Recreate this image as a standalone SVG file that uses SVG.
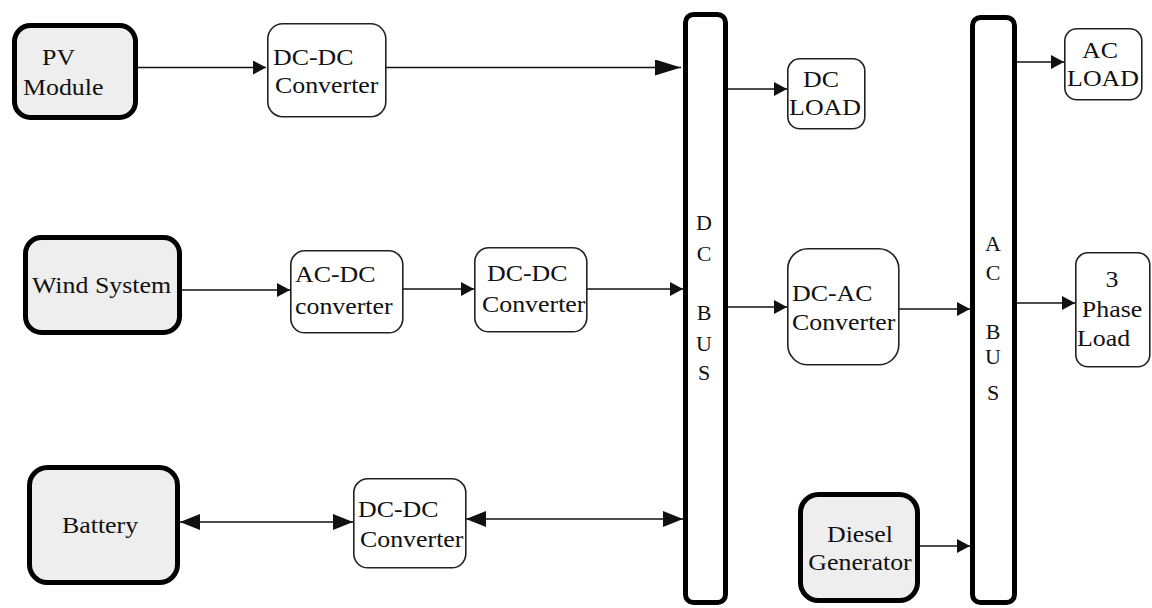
<svg xmlns="http://www.w3.org/2000/svg" width="1152" height="608" viewBox="0 0 1152 608" font-family="'Liberation Serif', 'DejaVu Serif', serif">
<style>
  .src rect { fill: #eeeeee; stroke: #000; stroke-width: 5; }
  .box rect { fill: #fff; stroke: #222; stroke-width: 1.6; }
  .bus rect { fill: #fff; stroke: #000; stroke-width: 5; }
  text { font-family: 'Liberation Serif', 'DejaVu Serif', serif; font-size: 22.5px; fill: #111; }
  .m { text-anchor: middle; }
  .bus text { text-anchor: middle; font-size: 22px; }
  #connectors path { fill: none; stroke: #111; stroke-width: 1.6; }
</style>
<defs>
  <marker id="ah" markerUnits="userSpaceOnUse" viewBox="0 0 13 14" markerWidth="13" markerHeight="14" refX="13" refY="7" orient="auto-start-reverse"><path d="M0,0 L13,7 L0,14 Z" fill="#111"/></marker>
  <marker id="ahL" markerUnits="userSpaceOnUse" viewBox="0 0 26 16" markerWidth="26" markerHeight="16" refX="26" refY="8" orient="auto-start-reverse"><path d="M0,0 L26,8 L0,16 Z" fill="#111"/></marker>
  <marker id="ahM" markerUnits="userSpaceOnUse" viewBox="0 0 20 16" markerWidth="20" markerHeight="16" refX="20" refY="8" orient="auto-start-reverse"><path d="M0,0 L20,8 L0,16 Z" fill="#111"/></marker>
</defs>
<rect width="1152" height="608" fill="#fff"/>

<g id="connectors">
  <path d="M138,67.5 H266" marker-end="url(#ah)"/>
  <path d="M386,67.5 H681" marker-end="url(#ahL)"/>
  <path d="M728,89 H787" marker-end="url(#ah)"/>
  <path d="M1017,62 H1064" marker-end="url(#ah)"/>
  <path d="M182,290 H290" marker-end="url(#ah)"/>
  <path d="M403,289 H474" marker-end="url(#ah)"/>
  <path d="M587,289 H683" marker-end="url(#ah)"/>
  <path d="M728,307 H787" marker-end="url(#ah)"/>
  <path d="M899,309 H970" marker-end="url(#ah)"/>
  <path d="M1017,303 H1075" marker-end="url(#ah)"/>
  <path d="M180,522 H353" marker-start="url(#ahM)" marker-end="url(#ahM)"/>
  <path d="M466,519 H683" marker-start="url(#ahM)" marker-end="url(#ahM)"/>
  <path d="M920,546 H970" marker-end="url(#ah)"/>
</g>

<g id="pv" class="src">
  <rect x="14.5" y="25.5" width="121" height="92" rx="16"/>
  <text transform="translate(42,65) scale(1.15,1)">PV</text>
  <text transform="translate(23,95) scale(1.15,1)">Module</text>
</g>
<g id="wind" class="src">
  <rect x="25.5" y="237.5" width="154" height="95" rx="16"/>
  <text transform="translate(32,293) scale(1.15,1)">Wind System</text>
</g>
<g id="battery" class="src">
  <rect x="29.5" y="467.5" width="148" height="115" rx="18"/>
  <text transform="translate(62,533) scale(1.15,1)">Battery</text>
</g>
<g id="diesel" class="src">
  <rect x="800.5" y="494.5" width="117" height="106" rx="18"/>
  <text class="m" transform="translate(860,542) scale(1.15,1)">Diesel</text>
  <text class="m" transform="translate(860,570) scale(1.15,1)">Generator</text>
</g>

<g id="dcdc1" class="box">
  <rect x="267.8" y="23.8" width="118" height="93" rx="15"/>
  <text transform="translate(273,65) scale(1.15,1)">DC-DC</text>
  <text transform="translate(275,93) scale(1.15,1)">Converter</text>
</g>
<g id="acdc" class="box">
  <rect x="290.8" y="250.8" width="112" height="82" rx="14"/>
  <text transform="translate(295,282) scale(1.15,1)">AC-DC</text>
  <text transform="translate(295,314) scale(1.15,1)">converter</text>
</g>
<g id="dcdc2" class="box">
  <rect x="474.8" y="247.8" width="112" height="84" rx="14"/>
  <text transform="translate(487,281) scale(1.15,1)">DC-DC</text>
  <text transform="translate(482,312) scale(1.15,1)">Converter</text>
</g>
<g id="dcdc3" class="box">
  <rect x="353.8" y="478.8" width="112" height="89" rx="14"/>
  <text transform="translate(358,517) scale(1.15,1)">DC-DC</text>
  <text transform="translate(360,547) scale(1.15,1)">Converter</text>
</g>
<g id="dcload" class="box">
  <rect x="787.8" y="58.8" width="77" height="70" rx="12"/>
  <text class="m" transform="translate(821,87) scale(1.15,1)">DC</text>
  <text class="m" transform="translate(825,115) scale(1.15,1)">LOAD</text>
</g>
<g id="acload" class="box">
  <rect x="1064.8" y="28.8" width="77" height="71" rx="12"/>
  <text class="m" transform="translate(1100,58) scale(1.15,1)">AC</text>
  <text class="m" transform="translate(1103,86) scale(1.15,1)">LOAD</text>
</g>
<g id="dcac" class="box">
  <rect x="787.8" y="248.8" width="111" height="116" rx="20"/>
  <text transform="translate(792,301) scale(1.15,1)">DC-AC</text>
  <text transform="translate(792,330) scale(1.15,1)">Converter</text>
</g>
<g id="phase3" class="box">
  <rect x="1075.8" y="252.8" width="74" height="114" rx="12"/>
  <text class="m" transform="translate(1112,287) scale(1.15,1)">3</text>
  <text class="m" transform="translate(1112,317) scale(1.15,1)">Phase</text>
  <text transform="translate(1077,346) scale(1.15,1)">Load</text>
</g>

<g id="dcbus" class="bus">
  <rect x="685.5" y="14.5" width="40" height="588" rx="8"/>
  <text x="704" y="230">D</text>
  <text x="704" y="261">C</text>
  <text x="704" y="320">B</text>
  <text x="704" y="351">U</text>
  <text x="704" y="380">S</text>
</g>
<g id="acbus" class="bus">
  <rect x="972.5" y="17.5" width="42" height="585" rx="8"/>
  <text x="993" y="251">A</text>
  <text x="993" y="280">C</text>
  <text x="993" y="339">B</text>
  <text x="993" y="364">U</text>
  <text x="993" y="400">S</text>
</g>
</svg>
